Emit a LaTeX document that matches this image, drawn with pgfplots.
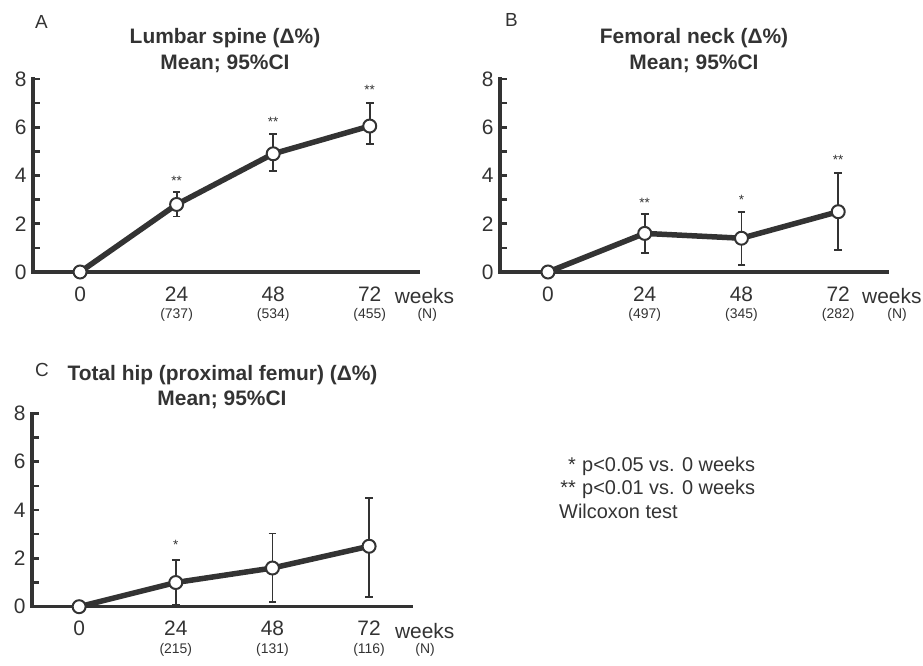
\documentclass[border=0pt]{standalone}
\usepackage{pgfplots}
\pgfplotsset{compat=1.18}
\usepackage{fontspec}
\setmainfont{Liberation Sans}
\definecolor{ink}{HTML}{333333}
\pgfplotsset{
  panel/.style={
    scale only axis,
    anchor=south west,
    axis x line=bottom, axis y line=left,
    axis line style={ink, line width=3.5bp, -, line cap=rect},
    xmin=-11.7, xmax=84, ymin=0, ymax=8,
    xtick={0,24,48,72},
    ytick={0,2,4,6,8},
    minor ytick={1,3,5,7},
    tick align=inside,
    major tick length=7bp, minor tick length=7bp,
    x tick style={draw=none},
    y tick style={ink, line width=2.5bp},
    minor y tick style={ink, line width=2.5bp},
    tick label style={font=\fontsize{21}{25}\selectfont, text=ink},
    /pgf/number format/assume math mode=true,
    xticklabel style={yshift=-11bp},
    yticklabel style={xshift=-3bp},
    clip=false,
  },
  series/.style={ink, line width=5.5bp, mark=*, mark size=6.5bp,
    mark options={fill=white, draw=ink, line width=2bp},
    error bars/.cd, y dir=both, y explicit,
    error bar style={line width=1.8bp, ink},
    error mark=-,
    error mark options={rotate=90, mark size=3.8bp, line width=1.8bp, ink}},
}
\tikzset{
  sigstar/.style={anchor=base, font=\fontsize{13.5}{14}\selectfont, text=ink, inner sep=0pt},
  nlab/.style={anchor=base, font=\fontsize{14}{14}\selectfont, text=ink, inner sep=0pt, yshift=-47bp},
  wk/.style={anchor=base west, font=\fontsize{21}{25}\selectfont, text=ink, inner sep=0pt, yshift=-32bp},
}
\begin{document}
\begin{tikzpicture}[x=1bp, y=1bp]
\useasboundingbox (0bp,0bp) rectangle (923bp,666bp);

% Panel A
\begin{axis}[panel, at={(33bp,394bp)}, width=385bp, height=193bp]
\addplot[series] table[x=x, y=y, y error plus=ep, y error minus=em] {
x y ep em
0 0 0 0
24 2.8 0.5 0.5
48 4.9 0.82 0.7
72 6.05 0.97 0.73
};
\node[sigstar] at (axis cs:24,3.59) {**};
\node[sigstar] at (axis cs:48,6.04) {**};
\node[sigstar] at (axis cs:72,7.36) {**};
\node[wk] at (axis cs:78.2,0) {weeks};
\node[nlab] at (axis cs:24,0) {(737)};
\node[nlab] at (axis cs:48,0) {(534)};
\node[nlab] at (axis cs:72,0) {(455)};
\node[nlab] at (axis cs:86.3,0) {(N)};
\end{axis}

% Panel B
\begin{axis}[panel, at={(500bp,394bp)}, width=387bp, height=193bp, xmin=-11.9, xmax=84.1]
\addplot[series] table[x=x, y=y, y error plus=ep, y error minus=em] {
x y ep em
0 0 0 0
24 1.6 0.8 0.82
48 1.4 1.1 1.12
72 2.5 1.6 1.6
};
\node[sigstar] at (axis cs:24,2.69) {**};
\node[sigstar] at (axis cs:48,2.81) {*};
\node[sigstar] at (axis cs:72,4.47) {**};
\node[wk] at (axis cs:77.9,0) {weeks};
\node[nlab] at (axis cs:24,0) {(497)};
\node[nlab] at (axis cs:48,0) {(345)};
\node[nlab] at (axis cs:72,0) {(282)};
\node[nlab] at (axis cs:86.6,0) {(N)};
\end{axis}

% Panel C
\begin{axis}[panel, at={(32bp,59.3bp)}, width=379bp, height=193.4bp, xmin=-11.7, xmax=82.4]
\addplot[series] table[x=x, y=y, y error plus=ep, y error minus=em] {
x y ep em
0 0 0 0
24 1.0 0.92 0.93
48 1.6 1.43 1.39
72 2.5 1.98 2.1
};
\node[sigstar] at (axis cs:24,2.38) {*};
\node[wk] at (axis cs:78.4,0) {weeks};
\node[nlab] at (axis cs:24,0) {(215)};
\node[nlab] at (axis cs:48,0) {(131)};
\node[nlab] at (axis cs:72,0) {(116)};
\node[nlab] at (axis cs:85.9,0) {(N)};
\end{axis}

% Titles
\begin{scope}[every node/.style={anchor=base, inner sep=0pt, text=ink, font=\bfseries\fontsize{21}{25}\selectfont}]
\node at (225bp,622bp) {Lumbar spine (Δ\%)};
\node at (225bp,596bp) {Mean; 95\%CI};
\node at (694bp,622bp) {Femoral neck (Δ\%)};
\node at (694bp,596bp) {Mean; 95\%CI};
\node at (222.5bp,285.3bp) {Total hip (proximal femur) (Δ\%)};
\node at (222bp,260bp) {Mean; 95\%CI};
\end{scope}

% Panel letters
\begin{scope}[every node/.style={anchor=base west, inner sep=0pt, text=ink, font=\fontsize{19}{22}\selectfont}]
\node at (35bp,637bp) {A};
\node at (505bp,639bp) {B};
\node at (35bp,289bp) {C};
\end{scope}

% Legend
\begin{scope}[every node/.style={inner sep=0pt, text=ink, font=\fontsize{20}{24}\selectfont}]
\node[anchor=base east] at (576bp,194bp) {*};
\node[anchor=base west] at (582bp,194bp) {p<0.05 vs. 0 weeks};
\node[anchor=base east] at (576bp,171bp) {**};
\node[anchor=base west] at (582bp,171bp) {p<0.01 vs. 0 weeks};
\node[anchor=base west] at (559bp,147.5bp) {Wilcoxon test};
\end{scope}
\end{tikzpicture}
\end{document}
